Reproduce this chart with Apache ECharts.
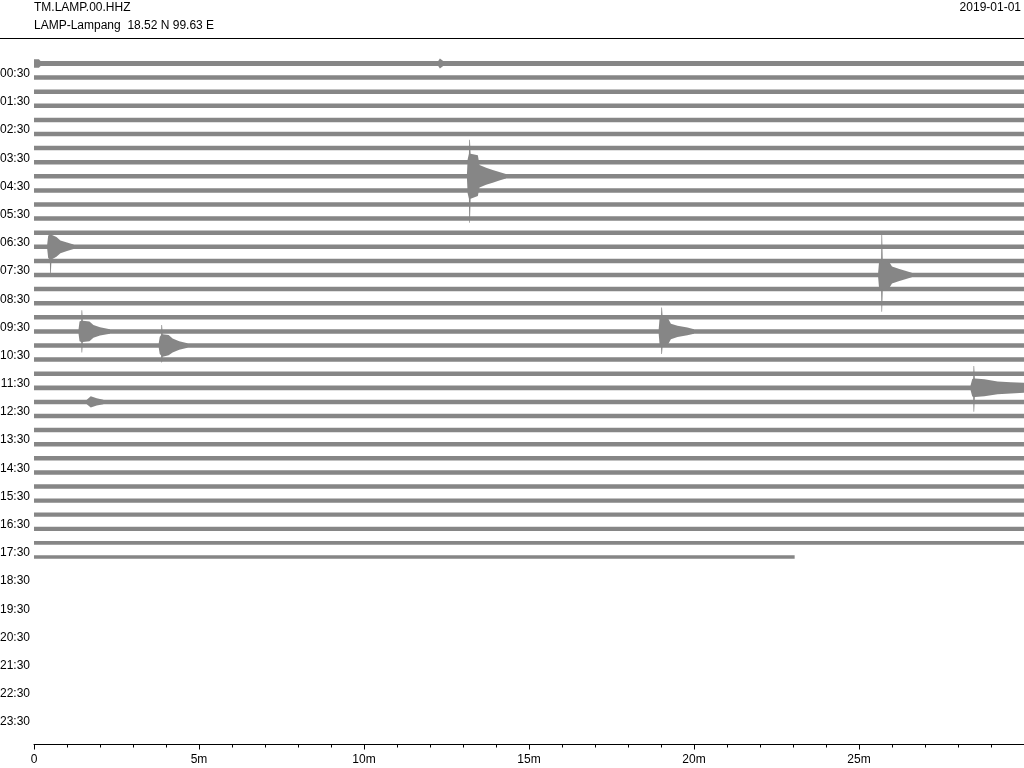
<!DOCTYPE html>
<html>
<head>
<meta charset="utf-8">
<script src="https://cdn.jsdelivr.net/npm/echarts@6/dist/echarts.min.js"></script>
<style>html,body{margin:0;padding:0;background:#fff}#c{width:1024px;height:768px}</style>
</head>
<body>
<div id="c"></div>
<script>
// ---- data ----
const stationCode = 'TM.LAMP.00.HHZ';
const stationName = 'LAMP-Lampang  18.52 N 99.63 E';
const dayLabel = '2019-01-01';
const timeLabels = ['00:30','01:30','02:30','03:30','04:30','05:30','06:30','07:30','08:30','09:30','10:30','11:30',
  '12:30','13:30','14:30','15:30','16:30','17:30','18:30','19:30','20:30','21:30','22:30','23:30'];
const xTickLabels = ['0','5m','10m','15m','20m','25m'];
// end minute of each 30-minute trace that has data (traces 0..35)
const traceEnds = [30,30,30,30,30,30,30,30,30,30,30,30,30,30,30,30,30,30,
  30,30,30,30,30,30,30,30,30,30,30,30,30,30,30,30,30,23.05];
// background noise half-amplitude per trace (in trace-spacing units)
const noiseAmp = [0.17,0.16,0.16,0.16,0.16,0.16,0.16,0.16,0.16,0.16,0.16,0.16,0.16,0.16,0.16,0.16,0.16,0.16,
  0.16,0.16,0.16,0.16,0.16,0.17,0.16,0.16,0.16,0.16,0.16,0.16,0.16,0.15,0.15,0.15,0.14,0.13];
// event envelopes: [minute, up, down]
const ev0400 = [[13.12,0.16,0.16],[13.14,1.2,1.2],[13.18,1.6,1.6],[13.19,2.6,3.3],[13.21,2.6,3.3],[13.23,1.6,1.6],[13.45,1.5,1.4],[13.5,0.8,0.8],[13.7,0.6,0.6],[13.9,0.45,0.45],[14.1,0.3,0.3],[14.3,0.16,0.16]];
const ev0630 = [[0.40,0.16,0.16],[0.43,0.8,0.8],[0.48,0.85,0.9],[0.49,0.9,1.9],[0.51,0.9,1.9],[0.53,0.85,0.9],[0.68,0.7,0.7],[0.8,0.45,0.45],[1.0,0.3,0.3],[1.2,0.16,0.16]];
const ev0730 = [[25.58,0.16,0.16],[25.61,1.0,1.0],[25.67,1.0,1.0],[25.68,2.9,2.6],[25.7,2.9,2.6],[25.72,1.0,1.0],[25.92,0.9,0.9],[26.0,0.6,0.6],[26.2,0.45,0.45],[26.4,0.3,0.3],[26.6,0.16,0.16]];
const ev0930a = [[1.35,0.16,0.16],[1.38,0.7,0.7],[1.43,0.75,0.75],[1.44,1.5,1.5],[1.46,1.5,1.5],[1.48,0.75,0.75],[1.68,0.7,0.7],[1.8,0.45,0.45],[2.0,0.3,0.3],[2.3,0.16,0.16]];
const ev1000 = [[3.78,0.16,0.16],[3.81,0.6,0.6],[3.85,0.75,0.7],[3.86,1.45,1.2],[3.88,1.45,1.2],[3.9,0.8,0.8],[4.08,0.75,0.7],[4.2,0.5,0.5],[4.4,0.3,0.3],[4.65,0.16,0.16]];
const ev0930b = [[18.93,0.16,0.16],[18.96,1.0,1.0],[19.0,1.0,1.0],[19.01,1.7,1.6],[19.03,1.7,1.6],[19.05,1.0,1.0],[19.22,0.9,0.9],[19.3,0.55,0.55],[19.5,0.4,0.4],[19.8,0.28,0.28],[20.0,0.16,0.16]];
const ev1130 = [[28.38,0.16,0.16],[28.43,0.6,0.6],[28.46,0.65,0.65],[28.47,1.55,1.7],[28.49,1.55,1.7],[28.51,0.65,0.65],[28.8,0.6,0.6],[29.2,0.45,0.45],[29.6,0.4,0.4],[30,0.35,0.35]];
const ev1200 = [[1.6,0.16,0.16],[1.72,0.4,0.4],[1.9,0.25,0.25],[2.1,0.16,0.16]];
const ev0000a = [[0,0.3,0.3],[0.15,0.3,0.3],[0.2,0.17,0.17]];
const ev0000b = [[12.25,0.17,0.17],[12.3,0.35,0.35],[12.4,0.17,0.17]];
const events = [ev0400, ev0630, ev0730, ev0930a, ev1000, ev0930b, ev1130, ev1200, ev0000a, ev0000b];
const eventTraces = [8, 13, 15, 19, 20, 19, 23, 24, 0, 0];

// ---- chart ----
const TRACE_COLOR = '#868686';
const chart = echarts.init(document.getElementById('c'), null, {renderer: 'canvas'});
const FONT = '"Liberation Sans", Arial, sans-serif';

const option = {
  animation: false,
  backgroundColor: '#ffffff',
  grid: {left: 34, right: 0, top: 49.4, bottom: 23.5, containLabel: false, outerBoundsMode: 'none'},
  xAxis: {
    type: 'value', min: 0, max: 30, interval: 5,
    axisLine: {show: true, onZero: false, lineStyle: {color: '#000', width: 1}},
    axisTick: {show: true, length: 5, lineStyle: {color: '#000'}},
    minorTick: {show: true, splitNumber: 5, length: 3, lineStyle: {color: '#000'}},
    splitLine: {show: false},
    axisLabel: {
      show: true, margin: 9, color: '#000', fontSize: 12, fontFamily: FONT, showMaxLabel: false,
      formatter: v => xTickLabels[Math.round(v / 5)] || ''
    }
  },
  yAxis: {
    type: 'value', inverse: true, min: -1, max: 48.3, interval: 1,
    axisLine: {show: false}, axisTick: {show: false}, splitLine: {show: false},
    axisLabel: {
      show: true, margin: 4, color: '#000', fontSize: 12, fontFamily: FONT,
      showMinLabel: false, showMaxLabel: false,
      verticalAlign: 'bottom', lineHeight: 8,
      formatter: v => (v > 0 && v % 2 === 1) ? timeLabels[(v - 1) / 2] : ''
    }
  },
  graphic: [
    {type: 'text', left: 34, top: 2, style: {text: stationCode, fill: '#000', font: '12px ' + FONT}},
    {type: 'text', left: 34, top: 20, style: {text: stationName, fill: '#000', font: '12px ' + FONT}},
    {type: 'text', right: 3, top: 2, style: {text: dayLabel, fill: '#000', font: '12px ' + FONT}},
    {type: 'line', shape: {x1: 0, y1: 38.5, x2: 1024, y2: 38.5}, style: {stroke: '#000', lineWidth: 1}}
  ],
  series: [
    {
      type: 'custom',
      name: 'noise',
      coordinateSystem: 'cartesian2d',
      encode: {x: 1, y: 0},
      data: traceEnds.map((e, i) => [i, e, noiseAmp[i]]),
      renderItem: function (params, api) {
        const i = api.value(0), e = api.value(1), a = api.value(2);
        const p0 = api.coord([0, i - a]);
        const p1 = api.coord([e, i + a]);
        return {
          type: 'rect',
          shape: {x: p0[0], y: p0[1], width: p1[0] - p0[0], height: p1[1] - p0[1]},
          style: {fill: TRACE_COLOR}
        };
      }
    },
    {
      type: 'custom',
      name: 'events',
      coordinateSystem: 'cartesian2d',
      encode: {x: 2, y: 1},
      data: events.map((ev, k) => [k, eventTraces[k], ev[0][0]]),
      renderItem: function (params, api) {
        const k = api.value(0);
        const tr = eventTraces[k];
        const env = events[k];
        const pts = env.map(p => api.coord([p[0], tr - p[1]]))
          .concat(env.slice().reverse().map(p => api.coord([p[0], tr + p[2]])));
        return {type: 'polygon', shape: {points: pts}, style: {fill: TRACE_COLOR}};
      }
    }
  ]
};
chart.setOption(option);
</script>
</body>
</html>
